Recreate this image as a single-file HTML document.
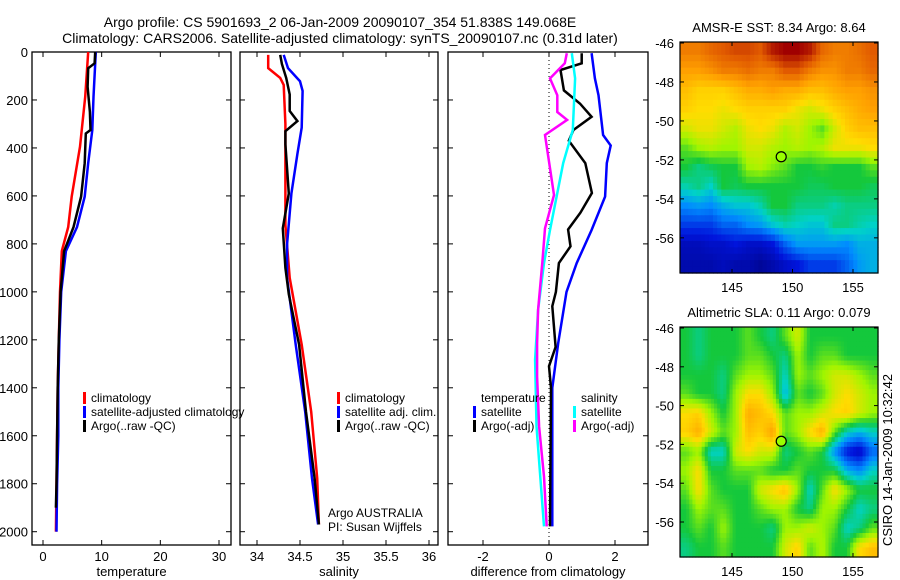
<!DOCTYPE html>
<html><head><meta charset="utf-8"><style>
body{margin:0;background:#fff;}
svg{display:block;font-family:"Liberation Sans",sans-serif;}
</style></head><body>
<svg id="fig" width="900" height="580" viewBox="0 0 900 580">
<text x="340" y="27" font-size="14" text-anchor="middle">Argo profile: CS 5901693_2 06-Jan-2009 20090107_354 51.838S 149.068E</text>
<text x="340" y="43" font-size="14" text-anchor="middle">Climatology: CARS2006. Satellite-adjusted climatology: synTS_20090107.nc (0.31d later)</text>
<text transform="translate(892,460) rotate(-90)" font-size="13" text-anchor="middle">CSIRO 14-Jan-2009 10:32:42</text>
</svg>
<script>
// ---------- data ----------
const depthTicks=[0,200,400,600,800,1000,1200,1400,1600,1800,2000];
const tempTicks=[0,10,20,30];
const salTicks=[34,34.5,35,35.5,36];
const diffTicks=[-2,0,2];
const lonTicks=[145,150,155];
const latTicks=[-46,-48,-50,-52,-54,-56];

const tClimD=[0,187,395,603,730,830,1000,1200,1400,1600,1800,2000];
const tClimV=[7.7,7.2,6.3,4.9,4.3,3.2,2.9,2.7,2.5,2.4,2.3,2.2];
const tSatD=[0,187,325,463,603,730,830,1000,1200,1400,1600,1800,2000];
const tSatV=[9.0,8.6,8.4,7.7,7.1,5.8,3.9,3.1,2.8,2.6,2.6,2.4,2.3];
const tArgoD=[0,47,68,145,250,325,340,463,603,730,830,1000,1200,1400,1600,1800,1900];
const tArgoV=[8.9,8.8,7.7,7.6,8.0,8.1,7.3,7.1,6.5,5.2,3.6,3.0,2.7,2.5,2.4,2.3,2.2];

const sClimD=[12,67,108,137,300,500,720,942,1220,1500,1777,1970];
const sClimV=[34.13,34.13,34.27,34.31,34.33,34.33,34.33,34.38,34.52,34.63,34.70,34.72];
const sSatD=[12,67,122,162,315,425,590,800,942,1220,1500,1777,1970];
const sSatV=[34.31,34.36,34.50,34.53,34.52,34.47,34.40,34.35,34.35,34.45,34.56,34.64,34.71];
const sArgoD=[12,50,108,177,246,288,330,385,590,735,900,1010,1220,1500,1777,1970];
const sArgoV=[34.27,34.29,34.34,34.38,34.38,34.47,34.33,34.33,34.37,34.30,34.33,34.37,34.49,34.57,34.67,34.72];

const dTSatD=[5,110,180,346,390,463,603,742,880,1000,1214,1400,1978];
const dTSatV=[1.29,1.39,1.5,1.64,1.87,1.75,1.7,1.29,0.84,0.53,0.28,0.1,0.1];
const dTArgoD=[5,47,75,160,215,270,325,370,463,588,670,740,810,880,1000,1060,1230,1310,1400,1978];
const dTArgoV=[0.99,0.99,0.35,0.45,0.94,1.29,0.74,0.6,1.1,1.3,0.95,0.58,0.65,0.3,0.21,0.1,0.2,0.0,0.06,0.03];
const dSSatD=[5,110,325,463,603,742,880,1075,1283,1560,1978];
const dSSatV=[0.69,0.79,0.72,0.43,0.23,0.03,-0.15,-0.33,-0.42,-0.38,-0.15];
const dSArgoD=[5,47,110,180,250,283,346,457,596,735,874,1075,1214,1353,1562,1770,1978];
const dSArgoV=[0.54,0.48,0.03,0.25,0.25,0.55,-0.12,0,0.15,-0.12,-0.2,-0.33,-0.36,-0.36,-0.3,-0.15,-0.07];

const sstGrid=[
[.85,.85,.88,.9,.92,.92,.9,.97,1,1,.97,.88,.85,.85,.87,.9],
[.8,.8,.82,.85,.85,.87,.85,.85,.9,.9,.85,.82,.82,.85,.85,.88],
[.75,.72,.72,.72,.75,.78,.78,.8,.78,.78,.75,.75,.78,.8,.8,.82],
[.72,.7,.7,.68,.7,.72,.72,.72,.72,.68,.65,.68,.72,.75,.78,.8],
[.65,.68,.68,.65,.62,.68,.7,.68,.62,.65,.6,.55,.65,.72,.75,.75],
[.55,.6,.62,.6,.6,.65,.65,.62,.6,.62,.6,.62,.68,.68,.68,.7],
[.5,.45,.48,.5,.5,.6,.62,.58,.55,.5,.5,.52,.5,.5,.5,.55],
[.42,.45,.4,.5,.48,.5,.5,.5,.5,.5,.48,.48,.5,.5,.5,.48],
[.3,.32,.3,.35,.38,.38,.42,.5,.5,.45,.45,.45,.42,.45,.45,.45],
[.2,.2,.2,.25,.25,.3,.32,.38,.42,.4,.38,.38,.45,.45,.42,.4],
[.1,.1,.12,.12,.15,.12,.12,.15,.25,.32,.32,.32,.32,.3,.35,.35],
[.08,.08,.08,.1,.08,.08,.05,.08,.12,.15,.2,.2,.2,.25,.32,.35]];
const slaGrid=[
[.5,.45,.5,.5,.5,.55,.5,.45,.55,.65,.5,.5,.5,.5,.5,.5],
[.5,.45,.5,.5,.5,.55,.55,.5,.45,.6,.5,.55,.55,.5,.5,.5],
[.5,.5,.5,.45,.55,.6,.6,.55,.4,.6,.55,.6,.65,.65,.6,.55],
[.55,.5,.5,.45,.6,.7,.7,.6,.35,.55,.5,.55,.65,.7,.65,.6],
[.7,.72,.6,.5,.6,.78,.75,.7,.55,.6,.6,.65,.7,.72,.65,.6],
[.72,.78,.65,.55,.6,.75,.72,.8,.55,.6,.7,.78,.55,.4,.35,.4],
[.55,.6,.4,.4,.65,.7,.65,.65,.45,.5,.55,.5,.3,.15,.1,.25],
[.6,.7,.5,.5,.55,.55,.55,.5,.5,.55,.5,.5,.5,.35,.3,.4],
[.55,.7,.55,.5,.5,.5,.65,.7,.75,.6,.4,.55,.7,.6,.5,.5],
[.5,.6,.55,.55,.5,.5,.55,.6,.6,.5,.45,.6,.6,.5,.4,.45],
[.5,.55,.5,.6,.5,.5,.5,.45,.6,.6,.65,.6,.55,.4,.45,.55],
[.45,.5,.5,.55,.5,.5,.5,.5,.65,.72,.55,.62,.5,.5,.7,.75]];
const argoLon=149.068, argoLat=-51.838;

// ---------- helpers ----------
const NS="http://www.w3.org/2000/svg";
const svg=document.getElementById('fig');
function mk(tag,attrs,parent){const e=document.createElementNS(NS,tag);for(const k in attrs)e.setAttribute(k,attrs[k]);(parent||svg).appendChild(e);return e;}
function lin(d0,d1,r0,r1){return v=>r0+(v-d0)*(r1-r0)/(d1-d0);}
const yD=lin(0,2000,52,531.7);

function panel(name,x0,x1,xs,ticks,tickFmt,xlabel,showY){
  const g=mk('g',{});
  
  
  const r=mk('rect',{x:x0,y:52,width:x1-x0,height:493,fill:'none',stroke:'#000','stroke-width':1.3},g);
  
  
  ticks.forEach(t=>{const x=xs(t);
    mk('line',{x1:x,x2:x,y1:545,y2:540,stroke:'#000'},g);
    mk('line',{x1:x,x2:x,y1:52,y2:57,stroke:'#000'},g);
    const tx=mk('text',{x:x,y:561,'font-size':13,'text-anchor':'middle'},g);tx.textContent=tickFmt(t);
    
    
  });
  depthTicks.forEach(d=>{const y=yD(d);
    mk('line',{x1:x0,x2:x0+5,y1:y,y2:y,stroke:'#000'},g);
    mk('line',{x1:x1,x2:x1-5,y1:y,y2:y,stroke:'#000'},g);
    if(showY){const tx=mk('text',{x:28,y:y+5,'font-size':13,'text-anchor':'end'},g);tx.textContent=d;
      
      }
  });
  const lb=mk('text',{x:(x0+x1)/2,y:576,'font-size':13,'text-anchor':'middle'},g);lb.textContent=xlabel;
  
  
  return g;
}
function line(g,xs,D,V,color,name){
  const pts=D.map((d,i)=>xs(V[i]).toFixed(1)+','+yD(d).toFixed(1)).join(' ');
  const p=mk('polyline',{points:pts,fill:'none',stroke:color,'stroke-width':2.5},g);
  
  
}
function legend(g,x,y,color,label){
  if(color){const b=mk('rect',{x:x,y:y-10,width:3,height:12,fill:color},g);
    
    }
  const t=mk('text',{x:x+8,y:y,'font-size':12},g);t.textContent=label;
  
  
}

// panel 1 temperature
const xT=lin(0,30,43,219);
const g1=panel('temperature-panel',32,231,xT,tempTicks,t=>t,'temperature',true);
line(g1,xT,tClimD,tClimV,'#f00','temp-climatology-line');
line(g1,xT,tSatD,tSatV,'#00f','temp-satellite-line');
line(g1,xT,tArgoD,tArgoV,'#000','temp-argo-line');
legend(g1,83,402,'#f00','climatology');
legend(g1,83,416,'#00f','satellite-adjusted climatology');
legend(g1,83,430,'#000','Argo(..raw -QC)');

// panel 2 salinity
const xS=lin(34,34.5,257,300);
const g2=panel('salinity-panel',240,438,xS,salTicks,t=>t,'salinity',false);
line(g2,xS,sClimD,sClimV,'#f00','sal-climatology-line');
line(g2,xS,sSatD,sSatV,'#00f','sal-satellite-line');
line(g2,xS,sArgoD,sArgoV,'#000','sal-argo-line');
legend(g2,337,402,'#f00','climatology');
legend(g2,337,416,'#00f','satellite adj. clim.');
legend(g2,337,430,'#000','Argo(..raw -QC)');
legend(g2,320,517,null,'Argo AUSTRALIA');
legend(g2,320,531,null,'PI: Susan Wijffels');

// panel 3 difference
const xDf=lin(0,2,549,615);
const g3=panel('difference-panel',448,648,xDf,diffTicks,t=>t,'difference from climatology',false);
const zl=mk('line',{x1:xDf(0),x2:xDf(0),y1:52,y2:545,stroke:'#000','stroke-dasharray':'1,3'},g3);


line(g3,xDf,dTSatD,dTSatV,'#00f','diff-temp-satellite-line');
line(g3,xDf,dTArgoD,dTArgoV,'#000','diff-temp-argo-line');
line(g3,xDf,dSSatD,dSSatV,'#0ff','diff-sal-satellite-line');
line(g3,xDf,dSArgoD,dSArgoV,'#f0f','diff-sal-argo-line');
legend(g3,473,402,null,'temperature');
legend(g3,473,416,'#00f','satellite');
legend(g3,473,430,'#000','Argo(-adj)');
legend(g3,573,402,null,'salinity');
legend(g3,573,416,'#0ff','satellite');
legend(g3,573,430,'#f0f','Argo(-adj)');

// ---------- maps ----------
const cmapStops=[[0,[0,0,120]],[0.15,[0,20,220]],[0.3,[0,140,255]],[0.4,[0,210,200]],[0.5,[20,200,60]],[0.6,[160,245,0]],[0.7,[255,220,0]],[0.8,[255,160,0]],[0.9,[225,90,0]],[1,[160,0,0]]];
function cmap(v){v=Math.max(0,Math.min(1,v));
  for(let i=1;i<cmapStops.length;i++){const a=cmapStops[i-1],b=cmapStops[i];
    if(v<=b[0]){const f=(v-a[0])/(b[0]-a[0]);return 'rgb('+a[1].map((c,k)=>Math.round(c+(b[1][k]-c)*f)).join(',')+')';}}
  return 'rgb(160,0,0)';}
function sample(grid,r,c){ // bilinear sample at fractional grid coords (render smoothing)
  const R=grid.length-1,C=grid[0].length-1;r=Math.max(0,Math.min(R,r));c=Math.max(0,Math.min(C,c));
  const r0=Math.floor(r),c0=Math.floor(c),r1=Math.min(R,r0+1),c1=Math.min(C,c0+1),fr=r-r0,fc=c-c0;
  return grid[r0][c0]*(1-fr)*(1-fc)+grid[r0][c1]*(1-fr)*fc+grid[r1][c0]*fr*(1-fc)+grid[r1][c1]*fr*fc;}
function map(name,top,bottom,grid,title,sub){
  const g=mk('g',{});
  
  
  const L=680,R=878;
  const xl=lin(145,155,732,853), yl=lin(-46,-56,top+1,top+1+(bottom-top)*194/230);
  const rows=grid.length*sub, cols=grid[0].length*sub, cw=(R-L)/cols, ch=(bottom-top)/rows;
  for(let i=0;i<rows;i++)for(let j=0;j<cols;j++){
    const v=sub>1?sample(grid,(i+0.5)/sub-0.5,(j+0.5)/sub-0.5):grid[i][j];
    const c=mk('rect',{x:(L+j*cw).toFixed(2),y:(top+i*ch).toFixed(2),width:(cw+0.6).toFixed(2),height:(ch+0.6).toFixed(2),fill:cmap(v)},g);
    
    
  }
  const fr=mk('rect',{x:L,y:top,width:R-L,height:bottom-top,fill:'none',stroke:'#000','stroke-width':1.2},g);
  
  
  lonTicks.forEach(t=>{const x=xl(t);
    mk('line',{x1:x,x2:x,y1:bottom,y2:bottom-4,stroke:'#000'},g);
    mk('line',{x1:x,x2:x,y1:top,y2:top+4,stroke:'#000'},g);
    const tx=mk('text',{x:x,y:bottom+19,'font-size':13,'text-anchor':'middle'},g);tx.textContent=t;
    
    });
  latTicks.forEach(t=>{const y=yl(t);
    mk('line',{x1:L,x2:L+4,y1:y,y2:y,stroke:'#000'},g);
    mk('line',{x1:R,x2:R-4,y1:y,y2:y,stroke:'#000'},g);
    const tx=mk('text',{x:674,y:y+5,'font-size':13,'text-anchor':'end'},g);tx.textContent=t;
    
    });
  const c=mk('circle',{cx:xl(argoLon),cy:yl(argoLat),r:5,fill:'#9f0',stroke:'#000','stroke-width':1.2},g);
  
  
  const tt=mk('text',{x:(L+R)/2,y:top-10,'font-size':13,'text-anchor':'middle'},g);tt.textContent=title;
  
  
}
map('sst-map',42,273,sstGrid,'AMSR-E SST: 8.34  Argo: 8.64',3);
map('sla-map',327,557,slaGrid,'Altimetric SLA: 0.11  Argo: 0.079',4);
</script>
</body></html>
